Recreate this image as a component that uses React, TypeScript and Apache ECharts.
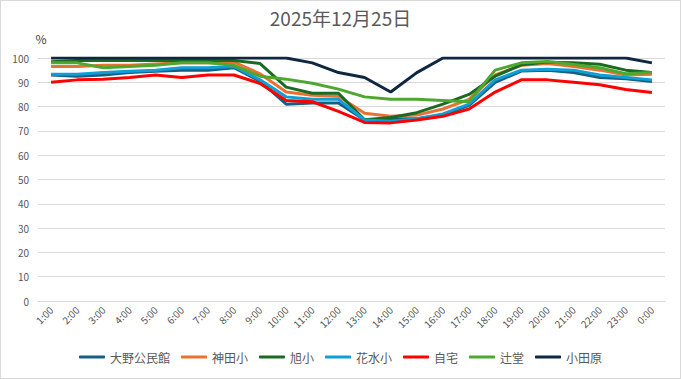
import React, { useEffect, useRef } from "react";
import * as echarts from "echarts";

const categories = ["1:00","2:00","3:00","4:00","5:00","6:00","7:00","8:00","9:00","10:00","11:00","12:00","13:00","14:00","15:00","16:00","17:00","18:00","19:00","20:00","21:00","22:00","23:00","0:00"];

const ono = [93, 92.5, 93, 94, 94.5, 95, 95, 96, 90.5, 81, 81.5, 81.5, 74.5, 75, 75, 76.5, 80.5, 90, 94.6, 95, 94, 92, 91.5, 90.3];
const kanda = [96.5, 96.5, 97, 97, 97.5, 98, 98, 98.3, 93.5, 86, 84.7, 84.3, 77.3, 76, 76.5, 79, 83, 93, 97, 97.7, 96.5, 95, 93, 93.3];
const asahi = [98.5, 99, 99, 99, 99, 99, 99, 99, 97.7, 88, 85.5, 85.5, 74.6, 75.5, 77.5, 81, 85, 92.5, 97.2, 98.3, 98, 97.4, 95, 94];
const hanamizu = [93.3, 93.3, 94, 94.5, 95, 96, 96, 96.5, 91, 84, 83, 83, 74.5, 74, 75, 77, 81, 91, 95, 95.4, 95, 93, 92, 91];
const jitaku = [90, 91, 91.3, 92, 93, 92, 93, 93, 89.5, 82.5, 82, 78, 73.5, 73.3, 74.5, 76, 79, 86, 91, 91, 90, 89, 87, 85.8];
const tsujido = [98, 98, 96, 96.5, 97, 98, 98, 97, 92.5, 91.3, 89.6, 87.2, 84, 83, 83, 82.5, 82, 95, 98, 98.6, 97.3, 96, 93.5, 94];
const odawara = [100, 100, 100, 100, 100, 100, 100, 100, 100, 100, 98, 94, 92, 86, 94, 100, 100, 100, 100, 100, 100, 100, 100, 98];

const seriesNames = ["大野公民館", "神田小", "旭小", "花水小", "自宅", "辻堂", "小田原"];
const seriesData = [ono, kanda, asahi, hanamizu, jitaku, tsujido, odawara];
const seriesColors = ["#156082", "#E97132", "#196B24", "#0F9ED5", "#FF0000", "#4EA72E", "#0E2841"];

export default function App() {
  const ref = useRef<HTMLDivElement>(null);
  useEffect(() => {
    document.body.style.margin = "0";
    if (!ref.current) return;
    const chart = echarts.init(ref.current, undefined, { renderer: "svg" });
    const font = "'Noto Sans CJK JP', 'Noto Sans', sans-serif";
    chart.setOption({
      animation: false,
      textStyle: { fontFamily: font },
      title: {
        text: "2025年12月25日",
        left: "center",
        top: 2,
        textStyle: { color: "#595959", fontSize: 19, fontWeight: "normal", fontFamily: font },
      },
      legend: {
        bottom: 10,
        left: "center",
        icon: "roundRect",
        itemWidth: 26,
        itemHeight: 3,
        itemGap: 11,
        textStyle: { color: "#595959", fontSize: 12, fontFamily: font },
        data: seriesNames,
      },
      grid: { left: 37, right: 15, top: 57, bottom: 77, containLabel: false },
      xAxis: {
        type: "category",
        data: categories,
        boundaryGap: true,
        axisLine: { show: true, lineStyle: { color: "#d9d9d9" } },
        axisTick: { show: false },
        axisLabel: { color: "#595959", fontSize: 10, rotate: 45, interval: 0, margin: 7 },
      },
      yAxis: {
        type: "value",
        min: 0,
        max: 100,
        interval: 10,
        name: "%",
        nameGap: 14,
        nameTextStyle: { color: "#404040", fontSize: 12, align: "center", padding: [0, 0, 0, 6] },
        axisLine: { show: false },
        axisTick: { show: false },
        axisLabel: { color: "#595959", fontSize: 10, margin: 9 },
        splitLine: { lineStyle: { color: "#d9d9d9" } },
      },
      series: seriesNames.map((n, i) => ({
        name: n,
        type: "line",
        data: seriesData[i],
        symbol: "none",
        color: seriesColors[i],
        lineStyle: { width: 3, color: seriesColors[i] },
      })),
    });
    return () => chart.dispose();
  }, []);
  return (
    <div
      ref={ref}
      style={{ width: 681, height: 379, boxSizing: "border-box", border: "1px solid #d9d9d9", background: "#fff" }}
    />
  );
}
